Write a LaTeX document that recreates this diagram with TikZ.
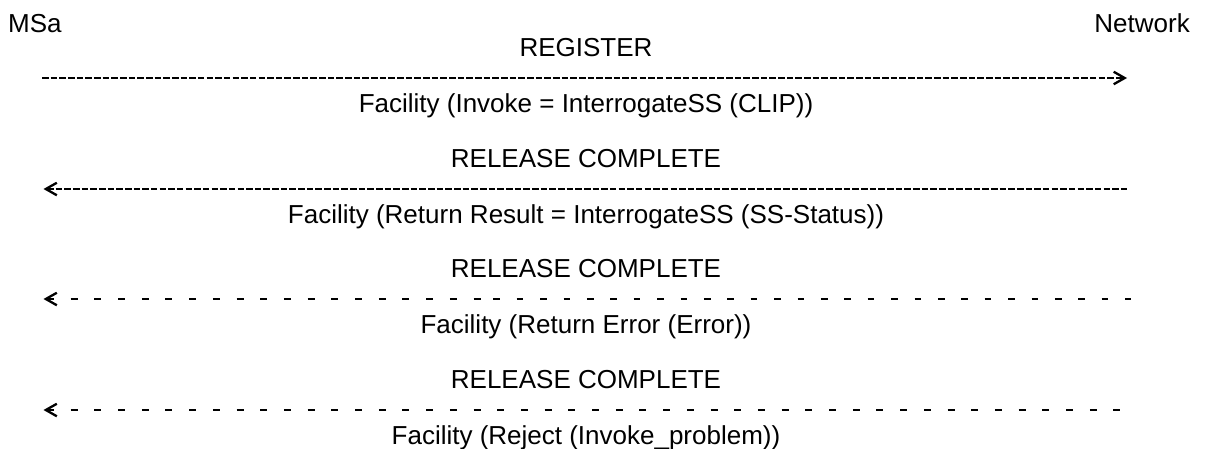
\documentclass[tikz,border=0pt]{standalone}
\usepackage{fontspec}
\setmainfont{Liberation Sans}
\usetikzlibrary{arrows.meta}
\begin{document}
\begin{tikzpicture}[x=1pt,y=-1pt,
  txt/.style={inner sep=0pt, font=\fontsize{26}{31}\selectfont},
  lbl/.style={txt, anchor=base},
  dense/.style={line width=2.4pt, dash pattern=on 6.6pt off 2.06pt},
  sparse/.style={line width=2.4pt, dash pattern=on 7pt off 16.7pt},
  tipR/.style={-{Straight Barb[length=11pt,width=12.5pt,line width=2.3pt,sep=2.5pt]}},
  tipL/.style={{Straight Barb[length=11pt,width=12.5pt,line width=2.3pt,sep=1pt]}-},
]
\fill[white] (0,0) rectangle (1207,448);
\useasboundingbox (0,0) rectangle (1207,448);

% parties
\node[txt, anchor=base west] (msa) at (8,32.3) {MSa};
\node[txt, anchor=base east] (net) at (1190,32.3) {Network};

% arrow end points
\coordinate (a1s) at (42,78);     \coordinate (a1e) at (1129.5,78);
\coordinate (a2s) at (1128,189);  \coordinate (a2e) at (42.5,189);
\coordinate (a3s) at (1131,299);  \coordinate (a3e) at (42.5,299);
\coordinate (a3m) at (491,299);   \coordinate (a3n) at (493.3,299);
\coordinate (a4s) at (1131,410);  \coordinate (a4e) at (42.5,410);

% messages
\node[lbl] (m1) at (586,56.3)  {REGISTER};
\node[lbl] (f1) at (586,112)   {Facility (Invoke = InterrogateSS (CLIP))};
\node[lbl] (m2) at (586,167.3) {RELEASE COMPLETE};
\node[lbl] (f2) at (586,223)   {Facility (Return Result = InterrogateSS (SS-Status))};
\node[lbl] (m3) at (586,277.3) {RELEASE COMPLETE};
\node[lbl] (f3) at (586,333)   {Facility (Return Error (Error))};
\node[lbl] (m4) at (586,388.3) {RELEASE COMPLETE};
\node[lbl] (f4) at (586,444)   {Facility (Reject (Invoke\_problem))};

% connectors
\draw[dense, tipR] (a1s) -- (a1e);
\draw[dense, tipL] (a2e) -- (a2s);
\draw[sparse, tipL] (a3e) -- (a3m);
\draw[sparse, dash pattern=on 6.7pt off 16.7pt] (a3n) -- (a3s);
\draw[sparse, tipL] (a4e) -- (a4s);
\end{tikzpicture}
\end{document}
